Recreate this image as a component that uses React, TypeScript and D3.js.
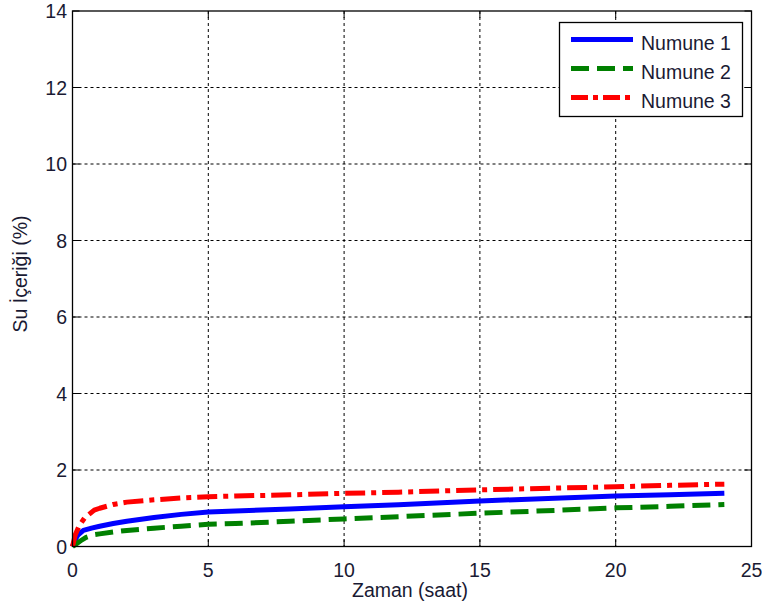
import React from "react";
import * as d3 from "d3";

const seriesNames = ["Numune 1", "Numune 2", "Numune 3"];
const timeN1 = [0, 0.1, 0.2, 0.4, 0.7, 1, 1.5, 2, 3, 4, 5, 6, 8, 10, 12, 15, 18, 20, 22, 24];
const valN1 = [0, 0.18, 0.3, 0.42, 0.48, 0.53, 0.6, 0.66, 0.76, 0.84, 0.9, 0.93, 0.98, 1.04, 1.09, 1.19, 1.27, 1.32, 1.35, 1.39];
const timeN2 = [0, 0.1, 0.3, 0.5, 0.8, 1, 1.5, 2, 3, 4, 5, 6, 8, 10, 12, 15, 18, 20, 22, 24];
const valN2 = [0, 0.05, 0.15, 0.24, 0.31, 0.33, 0.38, 0.42, 0.48, 0.53, 0.58, 0.6, 0.66, 0.72, 0.78, 0.87, 0.95, 1.01, 1.05, 1.1];
const timeN3 = [0, 0.1, 0.25, 0.45, 0.8, 1, 1.5, 2, 3, 4, 5, 6, 8, 10, 12, 15, 18, 20, 22, 24];
const valN3 = [0, 0.3, 0.55, 0.75, 0.95, 1.0, 1.1, 1.16, 1.22, 1.27, 1.3, 1.32, 1.35, 1.39, 1.42, 1.48, 1.53, 1.56, 1.6, 1.63];
const xTicks = [0, 5, 10, 15, 20, 25];
const yTicks = [0, 2, 4, 6, 8, 10, 12, 14];

const colors = ["#0000ff", "#008000", "#ff0000"];
const dashes = ["none", "18,8", "20,6,5,6"];

export default function App() {
  const left = 72.5, right = 751.5, top = 11, bottom = 546.5;
  const x = d3.scaleLinear().domain([0, 25]).range([left, right]);
  const y = d3.scaleLinear().domain([0, 14]).range([bottom, top]);
  const line = d3.line<[number, number]>().x((d) => x(d[0])).y((d) => y(d[1]));
  const data: [number, number][][] = [
    timeN1.map((t, i) => [t, valN1[i]]),
    timeN2.map((t, i) => [t, valN2[i]]),
    timeN3.map((t, i) => [t, valN3[i]]),
  ];
  const font = "Liberation Sans, Arial, sans-serif";
  const fs = 19.5;
  const txt = "#1a1a33";
  const tickLen = 7;
  return (
    <svg width={762} height={608} style={{ position: "absolute", left: 0, top: 0, background: "#fff" }} fontFamily={font}>
      <rect x={0} y={0} width={762} height={608} fill="#fff" />
      {xTicks.slice(1, -1).map((t) => (
        <line key={"gx" + t} x1={x(t)} x2={x(t)} y1={top} y2={bottom} stroke="#000" strokeWidth={1} strokeDasharray="3,3" />
      ))}
      {yTicks.slice(1, -1).map((t) => (
        <line key={"gy" + t} x1={left} x2={right} y1={y(t)} y2={y(t)} stroke="#000" strokeWidth={1} strokeDasharray="3,3" />
      ))}
      {xTicks.map((t) => (
        <g key={"tx" + t}>
          <line x1={x(t)} x2={x(t)} y1={bottom} y2={bottom - tickLen} stroke="#000" />
          <line x1={x(t)} x2={x(t)} y1={top} y2={top + tickLen} stroke="#000" />
          <text x={x(t)} y={577} textAnchor="middle" fontSize={fs} fill={txt}>{t}</text>
        </g>
      ))}
      {yTicks.map((t) => (
        <g key={"ty" + t}>
          <line x1={left} x2={left + tickLen} y1={y(t)} y2={y(t)} stroke="#000" />
          <line x1={right} x2={right - tickLen} y1={y(t)} y2={y(t)} stroke="#000" />
          <text x={67} y={y(t) + 7} textAnchor="end" fontSize={fs} fill={txt}>{t}</text>
        </g>
      ))}
      {data.map((d, i) => (
        <path key={"s" + i} d={line(d) || ""} fill="none" stroke={colors[i]} strokeWidth={5} strokeDasharray={dashes[i]} strokeLinejoin="round" />
      ))}
      <rect x={left} y={top} width={right - left} height={bottom - top} fill="none" stroke="#000" strokeWidth={1.3} />
      <rect x={559.5} y={22.5} width={183} height={94} fill="#fff" stroke="#000" strokeWidth={1.3} />
      {seriesNames.map((n, i) => (
        <g key={"l" + i}>
          <line x1={571} x2={633} y1={39.5 + i * 29} y2={39.5 + i * 29} stroke={colors[i]} strokeWidth={5} strokeDasharray={i === 1 ? "18,8" : i === 2 ? "17,5,5,5" : "none"} />
          <text x={641} y={39.5 + i * 29 + 10.5} fontSize={fs} fill={txt}>{n}</text>
        </g>
      ))}
      <text x={410} y={596.5} textAnchor="middle" fontSize={fs} fill={txt}>Zaman (saat)</text>
      <text transform={`translate(27, 274) rotate(-90)`} textAnchor="middle" fontSize={fs} fill={txt}>Su İçeriği (%)</text>
    </svg>
  );
}
